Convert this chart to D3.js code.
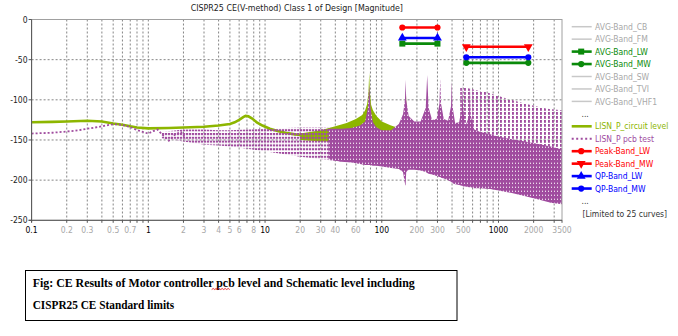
<!DOCTYPE html>
<html><head><meta charset="utf-8">
<script src="https://cdn.jsdelivr.net/npm/d3@7"></script>
<style>
body{margin:0;background:#fff;}
svg{display:block;}
.t{font-family:"DejaVu Sans Condensed","DejaVu Sans",sans-serif;font-stretch:condensed;}
</style></head><body>
<svg id="c" width="678" height="336"></svg>
<script>
// ---------------- DATA ----------------
const title = "CISPR25 CE(V-method) Class 1 of Design [Magnitude]";
const yTicks = [0, -50, -100, -150, -200, -250];
const xGrid = [0.2,0.3,0.4,0.5,0.6,0.7,0.8,0.9,1,2,3,4,5,6,7,8,9,10,20,30,40,50,60,70,80,90,100,200,300,400,500,600,700,800,900,1000,2000,3000];
const xLabels = [0.1,0.2,0.3,0.5,0.7,1,2,3,4,5,6,8,10,20,30,40,60,100,200,300,500,1000,2000,3500];
const xMajor = [0.1,1,10,100,1000];

// LISN_P_circuit level (green) smooth low-frequency part
const greenFreq = [0.1,0.15,0.2,0.3,0.4,0.5,0.6,0.7,0.8,1,1.5,2,3,4,5,5.5,6,6.5,6.8,7.2,7.7,8.5,9.5,11,13,15,18,22];
const greenVal  = [-128,-127.5,-127,-126,-127,-129.5,-131,-133,-134.5,-135.5,-135,-134.5,-133.5,-132,-130,-128,-125,-121.5,-120,-120.5,-123,-128,-132,-136,-139,-141,-143,-144];
// green dense band at higher frequency (envelopes)
const greenBandFreq = [20,30,40,50,60,68,72,75,77,78,79,81,84,90,100,120,140,150,158,161,164,175,250,500,1000,2000,3500];
const greenBandTop  = [-142,-138,-133,-129,-124,-119,-113,-105,-90,-66,-90,-106,-113,-120,-127,-132,-135,-136,-120,-91,-120,-136,-140,-145,-152,-160,-166];
const greenBandBot  = [-150,-152,-152,-152,-152,-152,-152,-152,-152,-152,-152,-152,-152,-152,-155,-156,-157,-158,-158,-158,-158,-160,-162,-166,-170,-175,-178];

// LISN_P pcb test (purple) single trace at low frequency
const pcbLowFreq = [0.1,0.12,0.15,0.2,0.25,0.3,0.35,0.4,0.45,0.5,0.55,0.6,0.7,0.8,0.9,1.0,1.1,1.2,1.35,1.5,1.7,1.9,2.1];
const pcbLowVal  = [-142,-141.5,-141,-139.5,-138,-136,-134.5,-133,-131.5,-130.5,-130.5,-131.5,-134,-137.5,-140,-142,-139,-137,-145,-151,-143,-140,-148];
// purple striped band 1.3 - 45
const pcbBandFreq = [1.3,2,3,4,5,7,10,15,20,30,40,45];
const pcbBandTop  = [-140,-137,-137,-138,-138,-137,-136,-135,-134,-134,-135,-135];
const pcbBandBot  = [-148,-152,-156,-157,-158,-161,-164,-168,-171,-174,-176,-177];
// purple dense region 35 - 3500 (top envelope includes resonance spikes)
const pcbDenseFreq = [35,45,55,65,72,76,78,80,84,90,100,120,140,152,158,160,162,170,190,215,238,245,252,270,295,312,317,322,340,370,392,398,404,425,460,485,491,497,520,560,570,580,620,700,850,1000,1300,1700,2200,2800,3500];
const pcbDenseTop  = [-136,-136,-135,-132,-127,-110,-82,-110,-128,-134,-138,-138,-130,-118,-100,-75,-100,-120,-127,-127,-110,-69,-110,-125,-124,-105,-73,-105,-124,-126,-108,-77,-108,-129,-128,-110,-81,-110,-133,-120,-83,-120,-137,-140,-143,-146,-149,-152,-155,-158,-162];
const pcbDenseBot  = [-174,-177,-178,-180,-181,-181,-181,-181,-182,-182,-183,-185,-186,-190,-205,-207,-190,-187,-187,-188,-190,-191,-192,-193,-195,-196,-196,-197,-198,-200,-202,-203,-204,-205,-206,-207,-207,-208,-208,-209,-209,-209,-210,-210,-211,-213,-216,-220,-224,-228,-230];
// purple sparse columns above the dense region (top envelope)
const pcbColFreq = [470,560,650,760,900,1100,1350,1700,2100,2600,3500];
const pcbColTop  = [-84,-86,-88,-90,-93,-97,-101,-105,-108,-111,-113];

// limit lines (same axis units as the x axis)
const limitNames = ["AVG-Band_LW","AVG-Band_MW","Peak-Band_LW","Peak-Band_MW","QP-Band_LW","QP-Band_MW"];
const limitStart = [150,530,150,530,150,530];
const limitEnd   = [300,1800,300,1800,300,1800];
const limitLevel = [-30,-54,-10,-34,-23,-47];
const limitColor = ["#0a8a0a","#0a8a0a","#ff0000","#ff0000","#0000ff","#0000ff"];
const limitMarker = ["square","circle","circle","down","up","circle"];

// legend
const legendNames = ["AVG-Band_CB","AVG-Band_FM","AVG-Band_LW","AVG-Band_MW","AVG-Band_SW","AVG-Band_TVI","AVG-Band_VHF1","...","LISN_P_circuit level","LISN_P pcb test","Peak-Band_LW","Peak-Band_MW","QP-Band_LW","QP-Band_MW","...","[Limited to 25 curves]"];

const caption1 = "Fig: CE Results of Motor controller pcb level and Schematic level including";
const caption2 = "CISPR25 CE Standard limits";

// ---------------- DRAW ----------------
const GREEN = "#8db600", PURPLE = "#a04c9f";
const svg = d3.select("#c");
const x = d3.scaleLog().domain([0.1,3500]).range([31.6,562]);
const y = d3.scaleLinear().domain([-250,0]).range([220.3,19.5]);
const defs = svg.append("defs");
defs.append("clipPath").attr("id","clip").append("rect")
  .attr("x",x(0.1)).attr("y",y(0)).attr("width",x(3500)-x(0.1)).attr("height",y(-250)-y(0));
const pS = defs.append("pattern").attr("id","stripe").attr("patternUnits","userSpaceOnUse").attr("width",3).attr("height",3.8);
pS.append("rect").attr("width",2.2).attr("height",2.1).attr("fill",PURPLE);
const pD = defs.append("pattern").attr("id","dense").attr("patternUnits","userSpaceOnUse").attr("width",3).attr("height",4);
pD.append("rect").attr("width",3).attr("height",4).attr("fill",PURPLE);
pD.append("rect").attr("x",2.2).attr("y",2.6).attr("width",0.8).attr("height",1.4).attr("fill","#fff");
const pC = defs.append("pattern").attr("id","cols").attr("patternUnits","userSpaceOnUse").attr("width",4).attr("height",4);
pC.append("rect").attr("width",1.9).attr("height",2.8).attr("fill",PURPLE);

// grid
const g = svg.append("g");
g.selectAll(".vg").data(xGrid).join("line")
  .attr("x1",d=>x(d)).attr("x2",d=>x(d)).attr("y1",y(0)).attr("y2",y(-250))
  .attr("stroke","#777").attr("stroke-dasharray","2,2").attr("stroke-width",0.9);
g.selectAll(".hg").data(yTicks.filter(d=>d<0&&d>-250)).join("line")
  .attr("x1",x(0.1)).attr("x2",x(3500)).attr("y1",d=>y(d)).attr("y2",d=>y(d))
  .attr("stroke","#777").attr("stroke-dasharray","2,2").attr("stroke-width",0.9);

const plot = svg.append("g").attr("clip-path","url(#clip)");
const zip3 = (f,a,b)=>f.map((v,i)=>[v,a[i],b[i]]);
const area = d3.area().x(d=>x(d[0])).y0(d=>y(d[2])).y1(d=>y(d[1]));
const line = d3.line().x(d=>x(d[0])).y(d=>y(d[1]));

// green
plot.append("path").datum(zip3(greenBandFreq,greenBandTop,greenBandBot)).attr("d",area).attr("fill",GREEN);
plot.append("path").datum(greenFreq.map((f,i)=>[f,greenVal[i]])).attr("d",line)
  .attr("fill","none").attr("stroke",GREEN).attr("stroke-width",2.6);

// purple
plot.append("path").datum(pcbLowFreq.map((f,i)=>[f,pcbLowVal[i]])).attr("d",line)
  .attr("fill","none").attr("stroke",PURPLE).attr("stroke-width",1.8).attr("stroke-dasharray","2,2");
plot.append("path").datum(zip3(pcbBandFreq,pcbBandTop,pcbBandBot)).attr("d",area).attr("fill","url(#stripe)");
const colBot = pcbColFreq.map(()=>-200);
plot.append("path").datum(zip3(pcbColFreq,pcbColTop,colBot)).attr("d",area).attr("fill","url(#cols)");
plot.append("path").datum(zip3(pcbDenseFreq,pcbDenseTop,pcbDenseBot)).attr("d",area).attr("fill","url(#dense)");

// limit lines
const sym = {square:d3.symbol(d3.symbolSquare,36), circle:d3.symbol(d3.symbolCircle,30),
  up:d3.symbol(d3.symbolTriangle,34), down:d3.symbol(d3.symbolTriangle,34)};
limitNames.forEach((n,i)=>{
  const lg = svg.append("g");
  lg.append("line").attr("x1",x(limitStart[i])).attr("x2",x(limitEnd[i]))
    .attr("y1",y(limitLevel[i])).attr("y2",y(limitLevel[i]))
    .attr("stroke",limitColor[i]).attr("stroke-width",2.6);
  [limitStart[i],limitEnd[i]].forEach(f=>{
    lg.append("path").attr("d",sym[limitMarker[i]]())
      .attr("transform",`translate(${x(f)},${y(limitLevel[i])})${limitMarker[i]==="down"?" rotate(180)":""}`)
      .attr("fill",limitColor[i]);
  });
});

// frame & axes
svg.append("rect").attr("x",x(0.1)).attr("y",y(0)).attr("width",x(3500)-x(0.1)).attr("height",y(-250)-y(0))
  .attr("fill","none").attr("stroke","#a0a0a0").attr("stroke-width",1);
svg.append("line").attr("x1",x(0.1)).attr("x2",x(0.1)).attr("y1",y(0)).attr("y2",y(-250)+2).attr("stroke","#555");
svg.append("line").attr("x1",x(0.1)-3).attr("x2",x(3500)).attr("y1",y(-250)).attr("y2",y(-250)).attr("stroke","#555");
svg.selectAll(".xt").data(xGrid.concat([0.1,3500])).join("line")
  .attr("x1",d=>x(d)).attr("x2",d=>x(d)).attr("y1",y(-250)).attr("y2",y(-250)+2.5).attr("stroke","#555");
svg.selectAll(".yt").data(yTicks).join("line")
  .attr("x1",x(0.1)-3).attr("x2",x(0.1)).attr("y1",d=>y(d)).attr("y2",d=>y(d)).attr("stroke","#555");
svg.selectAll(".yl").data(yTicks).join("text").attr("class","t")
  .attr("x",x(0.1)-4).attr("y",d=>y(d)+3).attr("text-anchor","end").attr("font-size",8.5).attr("fill","#222")
  .text(d=>d);
svg.selectAll(".xl").data(xLabels).join("text").attr("class","t")
  .attr("x",d=>x(d)).attr("y",233).attr("text-anchor","middle").attr("font-size",8.5)
  .attr("fill",d=>xMajor.includes(d)?"#000":"#a8a8a8").text(d=>d);

// title
svg.append("text").attr("class","t").attr("x",(x(0.1)+x(3500))/2).attr("y",11).attr("text-anchor","middle")
  .attr("font-size",8.8).attr("fill","#222").text(title);

// legend
const LX = 571.7, LY0 = 26.7, LDY = 12.45;
legendNames.forEach((n,i)=>{
  const cy = LY0 + i*LDY;
  let col = "#a8a8a8", lineCol = "#c8c8c8", mk = null, dash = null, sw = 1.5;
  const li = limitNames.indexOf(n);
  if (li>=0){ col = limitColor[li]; lineCol = col; mk = limitMarker[li]; sw = 2.6; }
  if (n==="LISN_P_circuit level"){ col = GREEN; lineCol = GREEN; sw = 2.6; }
  if (n==="LISN_P pcb test"){ col = PURPLE; lineCol = PURPLE; sw = 1.8; dash="2,2.5"; }
  if (n==="..." || n.startsWith("[")){
    svg.append("text").attr("class","t").attr("x",n==="..."?581.5:582.5).attr("y",cy+3.3)
      .attr("font-size",8.5).attr("fill","#333").text(n);
    return;
  }
  svg.append("line").attr("x1",LX).attr("x2",LX+20).attr("y1",cy).attr("y2",cy)
    .attr("stroke",lineCol).attr("stroke-width",sw).attr("stroke-dasharray",dash);
  if (mk) svg.append("path").attr("d",sym[mk]())
    .attr("transform",`translate(${LX+9.5},${cy})${mk==="down"?" rotate(180)":""}`).attr("fill",lineCol);
  svg.append("text").attr("class","t").attr("x",595).attr("y",cy+3.1).attr("font-size",8.5).attr("fill",col).text(n);
});

// caption box
svg.append("rect").attr("x",25.5).attr("y",270.5).attr("width",431.5).attr("height",50)
  .attr("fill","none").attr("stroke","#000").attr("stroke-width",1);
svg.append("text").attr("x",32.7).attr("y",287).attr("font-family","'Liberation Serif',serif").attr("font-weight","bold")
  .attr("font-size",13).attr("textLength",382).attr("lengthAdjust","spacingAndGlyphs").attr("fill","#000").text(caption1);
svg.append("text").attr("x",32.7).attr("y",308.5).attr("font-family","'Liberation Serif',serif").attr("font-weight","bold")
  .attr("font-size",13).attr("textLength",141.5).attr("lengthAdjust","spacingAndGlyphs").attr("fill","#000").text(caption2);
svg.append("path").attr("d","M211.7,289.5 l1.5,-1 l1.5,1 l1.5,-1 l1.5,1 l1.5,-1 l1.5,1 l1.5,-1 l1.5,1 l1.5,-1 l1.5,1 l1.5,-1 l1.5,1")
  .attr("fill","none").attr("stroke","#e00000").attr("stroke-width",0.8);
</script></body></html>
